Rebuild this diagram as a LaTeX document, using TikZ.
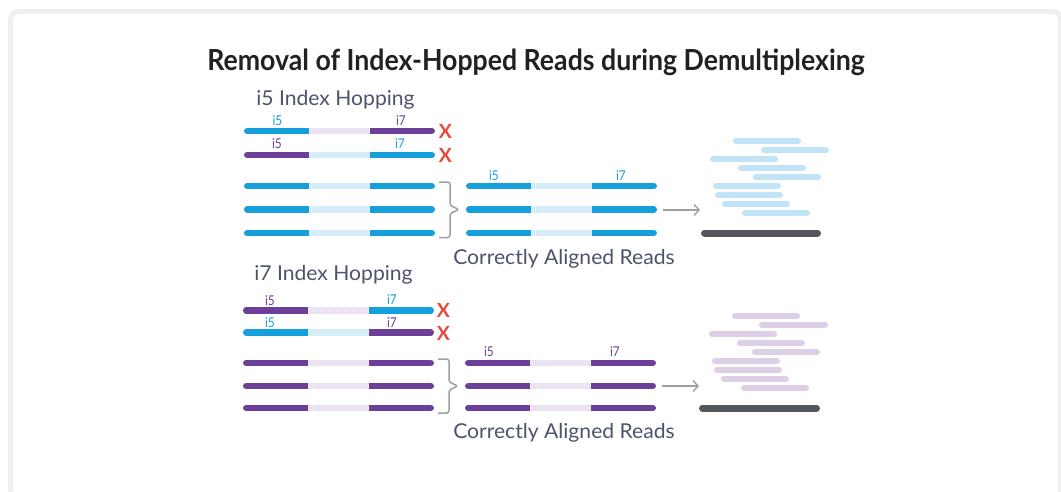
\documentclass[tikz,border=0pt]{standalone}
\usepackage{fontspec}
\setmainfont{Lato}
\newfontfamily\titlefont{Lato}[FakeStretch=0.92]
\newfontfamily\headfont{Lato}[FakeStretch=1.03]
\newfontfamily\tagfont{Lato}[FakeStretch=0.88]
\usetikzlibrary{arrows.meta,positioning}

\definecolor{idxblue}{RGB}{22,160,219}
\definecolor{idxpurple}{RGB}{108,64,153}
\definecolor{bluemid}{RGB}{205,234,248}
\definecolor{lavmid}{RGB}{230,222,240}
\definecolor{pileblue}{RGB}{192,228,246}
\definecolor{pilepurple}{RGB}{220,207,231}
\definecolor{refbar}{RGB}{83,87,92}
\definecolor{xred}{RGB}{232,72,62}
\definecolor{txtgray}{RGB}{78,83,108}
\definecolor{framegray}{RGB}{239,239,239}
\definecolor{linegray}{RGB}{160,160,160}

\tikzset{
  bar/.style={line width=6.5pt, line cap=round},
  midbar/.style={line width=6.5pt, line cap=butt},
  hatch/.style={line width=6.5pt, white, opacity=0.35, dash pattern=on 0.7pt off 1.3pt},
  pile/.style={line width=6pt, line cap=round},
  tag/.style={font=\tagfont\fontsize{13.5}{14}\selectfont, inner sep=0pt, anchor=base},
  head/.style={font=\headfont\fontsize{20.5}{23}\selectfont, text=txtgray, inner sep=0pt, anchor=base},
  cross/.style={font=\bfseries\fontsize{19.5}{20}\selectfont, text=xred, inner sep=0pt},
  flow/.style={draw=linegray, line width=1.4pt, -{Straight Barb[length=5pt,width=11pt,line width=1.4pt]}},
  brace/.style={draw=linegray, line width=1.5pt, rounded corners=2.5pt}
}

% one read: y, left end, left / middle / right colour
\newcommand{\readbar}[5]{%
  \draw[bar, #3] (#2+3.25,#1) -- (#2+65,#1);
  \draw[bar, #5] (#2+126,#1) -- (#2+187.75,#1);
  \draw[midbar, #4] (#2+65,#1) -- (#2+126,#1);
  \draw[hatch] (#2+65,#1) -- (#2+126,#1);
}

\begin{document}
\begin{tikzpicture}[x=1pt,y=-1pt]
  \useasboundingbox (0,0) rectangle (1061,491);
  \fill[white] (0,0) rectangle (1061,491);
  \draw[framegray, line width=5pt, rounded corners=8pt] (10.5,11.5) rectangle (1060.5,540);

  % Title
  \node[anchor=base, inner sep=0pt, text=black!87, font=\titlefont\bfseries\fontsize{29}{32}\selectfont]
    (title) at (536,70) {Removal of Index-Hopped Reads during Demultiplexing};

  % i5 index hopping
  \node[head] (hop5) at (335.5,105) {i5 Index Hopping};
  \readbar{131}{244}{idxblue}{lavmid}{idxpurple}
  \readbar{155}{244}{idxpurple}{bluemid}{idxblue}
  \node[tag, text=idxblue] (a5) at (277.5,125.5) {i5};
  \node[tag, text=idxpurple] (a7) at (401,125.5) {i7};
  \node[tag, text=idxpurple] (b5) at (277,148.5) {i5};
  \node[tag, text=idxblue] (b7) at (400,148.5) {i7};
  \node[cross] (xa) at (445.5,131.5) {X};
  \node[cross] (xb) at (445.5,155) {X};
  \readbar{186}{244}{idxblue}{bluemid}{idxblue}
  \readbar{209.5}{244}{idxblue}{bluemid}{idxblue}
  \readbar{233}{244}{idxblue}{bluemid}{idxblue}
  \draw[brace] (439,182) -- (450,182) -- (450,205.5) -- (459,209.5) -- (450,213.5) -- (450,237.5) -- (439,237.5);

  % correctly aligned, i5
  \readbar{186}{466}{idxblue}{bluemid}{idxblue}
  \readbar{209.5}{466}{idxblue}{bluemid}{idxblue}
  \readbar{233}{466}{idxblue}{bluemid}{idxblue}
  \node[tag, text=idxblue] (c5) at (494,180.5) {i5};
  \node[tag, text=idxblue] (c7) at (621,180.5) {i7};
  \node[head] (ok5) at (564,264) {Correctly Aligned Reads};

  % alignment, i5
  \coordinate (s5) at (663,210);
  \coordinate (e5) at (700,210);
  \draw[flow] (s5) -- (e5);
  \foreach \xa/\xb/\yy in {733/801/141, 761/829/150, 710/778/159, 738/806/168, 753/821/177,
                           713/781/186, 715/783/195, 722/790/204, 742/810/213}
    \draw[pile, pileblue] (\xa+3,\yy) -- (\xb-3,\yy);
  \draw[pile, refbar, line width=7pt] (704.5,233) -- (817.5,233);

  % i7 index hopping
  \node[head] (hop7) at (333.5,280) {i7 Index Hopping};
  \readbar{310.5}{243}{idxpurple}{lavmid}{idxblue}
  \readbar{332.5}{243}{idxblue}{bluemid}{idxpurple}
  \node[tag, text=idxpurple] (d5) at (270,305) {i5};
  \node[tag, text=idxblue] (d7) at (392,304.5) {i7};
  \node[tag, text=idxblue] (f5) at (270,327) {i5};
  \node[tag, text=idxpurple] (f7) at (392,327) {i7};
  \node[cross] (xd) at (443.5,310.5) {X};
  \node[cross] (xf) at (443.5,333) {X};
  \readbar{363}{243}{idxpurple}{lavmid}{idxpurple}
  \readbar{386}{243}{idxpurple}{lavmid}{idxpurple}
  \readbar{408}{243}{idxpurple}{lavmid}{idxpurple}
  \draw[brace] (438,359) -- (449,359) -- (449,382) -- (458,386) -- (449,390) -- (449,413) -- (438,413);

  % correctly aligned, i7
  \readbar{363}{465}{idxpurple}{lavmid}{idxpurple}
  \readbar{386}{465}{idxpurple}{lavmid}{idxpurple}
  \readbar{408}{465}{idxpurple}{lavmid}{idxpurple}
  \node[tag, text=idxpurple] (g5) at (489,356) {i5};
  \node[tag, text=idxpurple] (g7) at (615,356) {i7};
  \node[head] (ok7) at (564,438) {Correctly Aligned Reads};

  % alignment, i7
  \coordinate (s7) at (662,386);
  \coordinate (e7) at (699,386);
  \draw[flow] (s7) -- (e7);
  \foreach \xa/\xb/\yy in {732/800/316, 759/828/325, 709/777/334, 737/805/343, 752/820/352,
                           712/780/361, 714/782/370, 721/789/379, 741/809/388}
    \draw[pile, pilepurple] (\xa+3,\yy) -- (\xb-3,\yy);
  \draw[pile, refbar, line width=7pt] (702.5,408) -- (816.5,408);
\end{tikzpicture}
\end{document}
